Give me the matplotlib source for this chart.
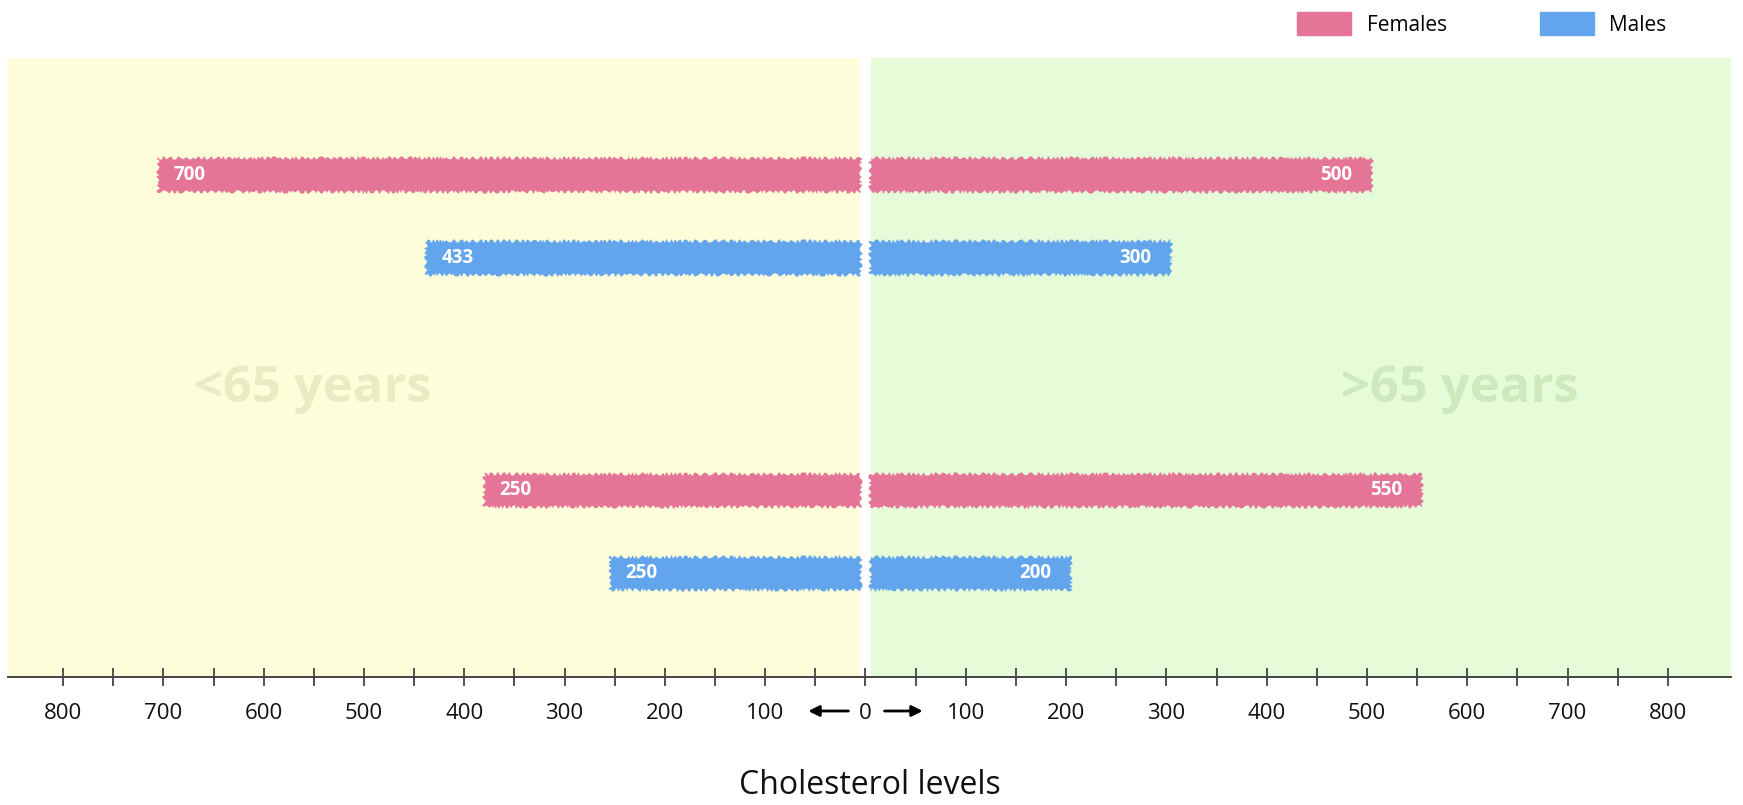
import matplotlib
matplotlib.use("Agg")
import matplotlib.pyplot as plt
from matplotlib.patches import Patch

# ---------------- data ----------------
sexes = ["Females", "Males"]
age_groups = ["<65 years", ">65 years"]

# bar lengths (cholesterol levels) for two blocks of rows
under65_females = [700, 375]
under65_males = [433, 250]
over65_females = [500, 550]
over65_males = [300, 200]

# printed value labels
under65_female_labels = ["700", "250"]
under65_male_labels = ["433", "250"]
over65_female_labels = ["500", "550"]
over65_male_labels = ["300", "200"]

tick_values = list(range(-800, 801, 100))
minor_tick_values = list(range(-750, 751, 100))

# ---------------- style ----------------
PINK = "#e47597"
BLUE = "#62a5ec"
YELLOW = "#fdfdd9"
GREEN = "#e6fcd9"
FONT = ["Open Sans", "DejaVu Sans"]

plt.rcParams["font.family"] = FONT

fig = plt.figure(figsize=(17.43, 8.05), dpi=100)
W, H = 1743, 805
ax = fig.add_axes([8 / W, 1 - 677 / H, (1731 - 8) / W, (677 - 58) / H])
ax.set_facecolor("white")

XMIN, XMAX = -855, 863
ax.set_xlim(XMIN, XMAX)
ax.set_ylim(6.05, -1.41)

# background halves with white gap in centre
ax.axvspan(XMIN, -5, color=YELLOW, lw=0, zorder=0)
ax.axvspan(5, XMAX, color=GREEN, lw=0, zorder=0)

# row positions: two blocks, each with a female and a male row
block_offsets = [0.0, 3.8]
bar_h = 0.40
gap = 4
overshoot = 5   # rough edge reaches a little beyond the value

def draw(values, labels, color, row, side):
    for b, (v, lab) in enumerate(zip(values, labels)):
        y = block_offsets[b] + row
        if side < 0:
            bars = ax.barh(y, -(v - gap + overshoot), left=-gap, height=bar_h,
                           color=color, lw=0, zorder=2)
            ax.text(-v + 10, y, lab, ha="left", va="center", color="white",
                    fontsize=13.5, fontweight="bold", zorder=3)
        else:
            bars = ax.barh(y, v - gap + overshoot, left=gap, height=bar_h,
                           color=color, lw=0, zorder=2)
            ax.text(v - 15, y, lab, ha="right", va="center", color="white",
                    fontsize=13.5, fontweight="bold", zorder=3)
        for p in bars.patches:
            p.set_sketch_params(scale=1.6, length=8, randomness=4)

draw(under65_females, under65_female_labels, PINK, 0, -1)
draw(under65_males, under65_male_labels, BLUE, 1, -1)
draw(over65_females, over65_female_labels, PINK, 0, 1)
draw(over65_males, over65_male_labels, BLUE, 1, 1)

# age group captions
ax.text(-551, 2.58, age_groups[0], ha="center", va="center", fontsize=36.5,
        fontweight="bold", color="#e9ecc3", zorder=1)
ax.text(593, 2.58, age_groups[1], ha="center", va="center", fontsize=36.5,
        fontweight="bold", color="#cfe9bf", zorder=1)

# axis
for s in ["top", "left", "right"]:
    ax.spines[s].set_visible(False)
ax.spines["bottom"].set_color("#444444")
ax.spines["bottom"].set_linewidth(1.4)
ax.set_yticks([])

ax.set_xticks(tick_values)
ax.set_xticklabels([str(abs(v)) for v in tick_values], fontsize=16, color="#111111")
ax.set_xticks(minor_tick_values, minor=True)
ax.tick_params(axis="x", which="both", direction="inout", length=13.5,
               width=1.3, color="#444444", pad=12)

# direction arrows beside the zero label
xt = ax.get_xaxis_transform()
arrow_y = -34 / 619
for x0, x1 in [(-17, -57), (19, 57)]:
    ax.annotate("", xy=(x1, arrow_y), xytext=(x0, arrow_y), xycoords=xt,
                textcoords=xt, annotation_clip=False,
                arrowprops=dict(arrowstyle="-|>", color="black", lw=2.0,
                                mutation_scale=16, shrinkA=0, shrinkB=0))

fig.text(870 / W, 1 - 785 / H, "Cholesterol levels", ha="center", va="center",
         fontsize=23, color="#111111")

handles = [Patch(color=PINK, label=sexes[0]), Patch(color=BLUE, label=sexes[1])]
fig.legend(handles=handles, loc="center left", bbox_to_anchor=(1297 / W, 1 - 24 / H),
           ncol=2, frameon=False, fontsize=15, handlelength=2.6, handleheight=1.25,
           handletextpad=0.75, columnspacing=4.45, borderpad=0, borderaxespad=0)

fig.savefig("out.png", dpi=100, facecolor="white")
